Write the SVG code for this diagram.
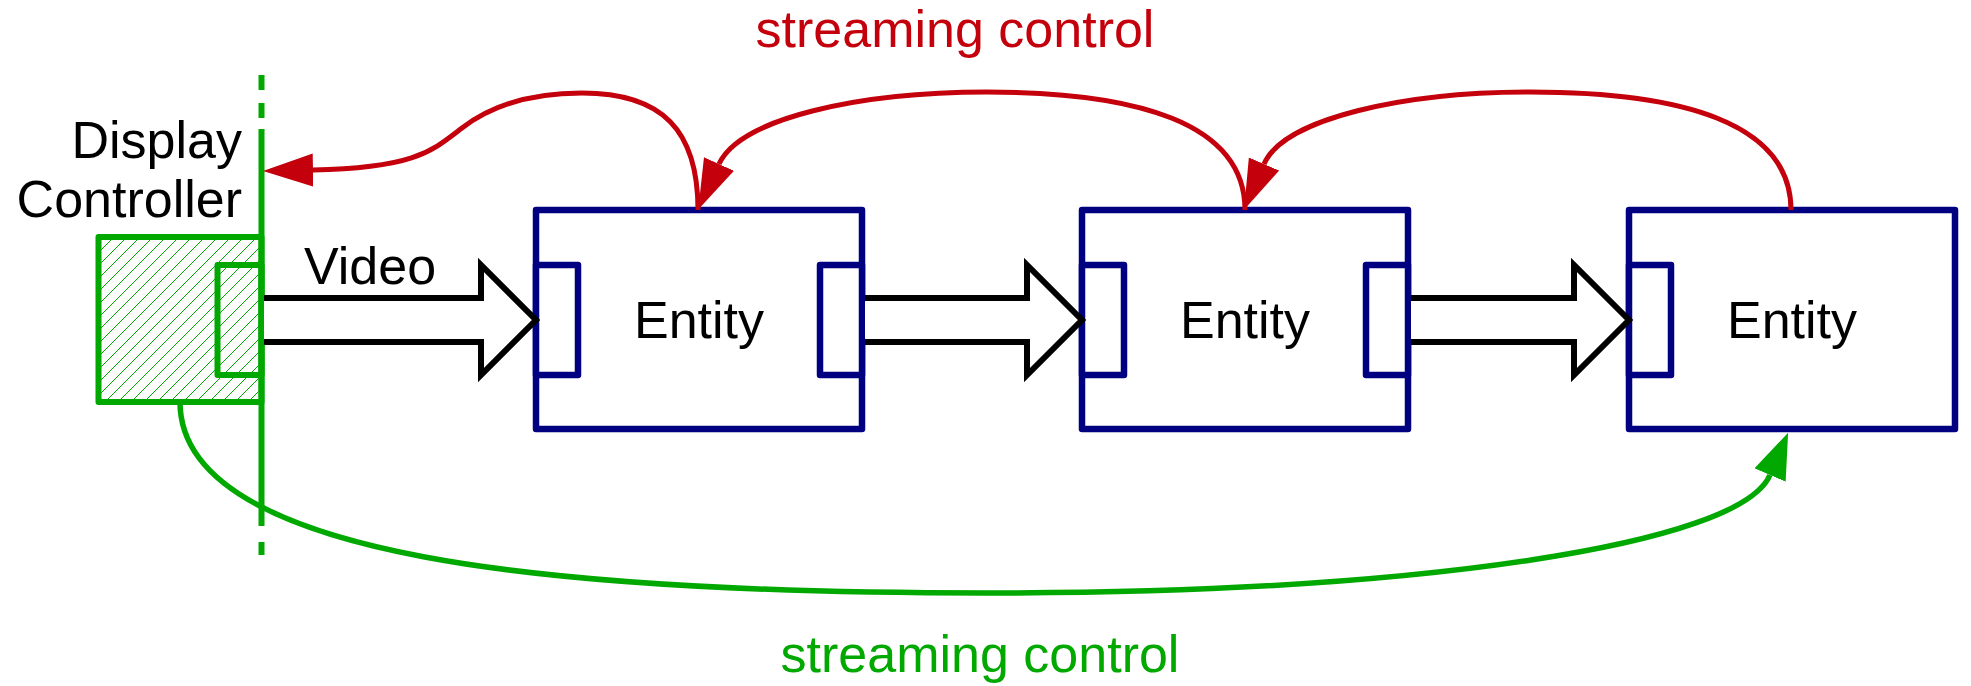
<svg xmlns="http://www.w3.org/2000/svg" width="1971" height="686" viewBox="0 0 1971 686">
<style>
.txt{font-family:"Liberation Sans",Arial,sans-serif;font-size:52px;fill:#000}
.box{fill:#fff;stroke:#000080;stroke-width:6.5;stroke-linejoin:round}
.port{fill:#fff;stroke:#000080;stroke-width:6.5;stroke-linejoin:round}
.flow{fill:#fff;stroke:#000;stroke-width:6;stroke-linejoin:miter;stroke-miterlimit:10}
.red{fill:none;stroke:#c4000c;stroke-width:5}
.grn{fill:none;stroke:#00a800;stroke-width:5.5}
.gl{stroke:#00a800;stroke-width:6}
.dc{fill:url(#hatch);stroke:#00a800;stroke-width:6;stroke-linejoin:round}
</style>
<defs>
<pattern id="hatch" patternUnits="userSpaceOnUse" width="13" height="13">
<path d="M-1,1 l2,-2 M0,13 L13,0 M12,14 l2,-2" stroke="#00a800" stroke-width="1"/>
</pattern>
<marker id="ar" markerUnits="userSpaceOnUse" markerWidth="52" markerHeight="34" refX="0" refY="16.5" orient="auto">
<path d="M0,0 L50,16.5 L0,33 Z" fill="#c4000c"/>
</marker>
<marker id="ag" markerUnits="userSpaceOnUse" markerWidth="48" markerHeight="35" refX="0" refY="17" orient="auto">
<path d="M0,0 L46,17 L0,34 Z" fill="#00a800"/>
</marker>
</defs>

<g id="display-controller">
<rect class="dc" x="98.5" y="237" width="163" height="165"/>
<rect class="dc" x="217.5" y="265" width="44" height="110"/>
<g class="gl">
<line x1="261.5" y1="75" x2="261.5" y2="90"/>
<line x1="261.5" y1="103" x2="261.5" y2="118"/>
<line x1="261.5" y1="129" x2="261.5" y2="526"/>
<line x1="261.5" y1="542" x2="261.5" y2="555"/>
</g>
<text class="txt" x="242" y="158" text-anchor="end">Display</text>
<text class="txt" x="242" y="217" text-anchor="end">Controller</text>
</g>

<g id="entity1">
<rect class="box" x="536" y="210" width="326" height="219"/>
<rect class="port" x="536" y="265" width="42" height="110"/>
<rect class="port" x="820" y="265" width="42" height="110"/>
<text class="txt" x="699" y="338" text-anchor="middle">Entity</text>
</g>

<g id="entity2">
<rect class="box" x="1082" y="210" width="326" height="219"/>
<rect class="port" x="1082" y="265" width="42" height="110"/>
<rect class="port" x="1366" y="265" width="42" height="110"/>
<text class="txt" x="1245" y="338" text-anchor="middle">Entity</text>
</g>

<g id="entity3">
<rect class="box" x="1629" y="210" width="326" height="219"/>
<rect class="port" x="1629" y="265" width="42" height="110"/>
<text class="txt" x="1792" y="338" text-anchor="middle">Entity</text>
</g>

<g id="connectors">
<path class="flow" d="M264,298 H481 V265 L536,320 L481,375 V342 H264"/>
<path class="flow" d="M865,298 H1027 V265 L1082,320 L1027,375 V342 H865"/>
<path class="flow" d="M1411,298 H1574 V265 L1629,320 L1574,375 V342 H1411"/>
<text class="txt" x="304" y="284">Video</text>

<path class="red" marker-end="url(#ar)" d="M698,210 C698,130 662,93 582,93 C525,93 488,108 462,128 C432,151 415,168 313,170"/>
<path class="red" marker-end="url(#ar)" d="M1245,210 C1245,122 1135,92 987,92 C860,92 740,118 719,164"/>
<path class="red" marker-end="url(#ar)" d="M1791,210 C1791,122 1680,92 1530,92 C1405,92 1284,118 1264,164"/>
<path class="grn" marker-end="url(#ag)" d="M180,402 C180,560 560,593 987,593 C1420,593 1740,545 1770,475"/>

<text class="txt" x="955" y="47" text-anchor="middle" style="fill:#c4000c">streaming control</text>
<text class="txt" x="980" y="672" text-anchor="middle" style="fill:#00a800">streaming control</text>
</g>
</svg>
